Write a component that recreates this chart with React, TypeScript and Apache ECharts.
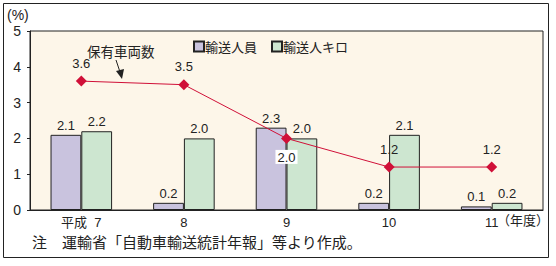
import React, { useEffect, useRef } from "react";
import * as echarts from "echarts";

const categories = ["平成  7", "8", "9", "10", "11"];
const passengers = [2.1, 0.2, 2.3, 0.2, 0.1];
const passengerKm = [2.2, 2.0, 2.0, 2.1, 0.2];
const vehicles = [3.6, 3.5, 2.0, 1.2, 1.2];
const seriesNames = ["輸送人員", "輸送人キロ", "保有車両数"];
const yTicks = [0, 1, 2, 3, 4, 5];

const SANS = "'Liberation Sans', 'Noto Sans CJK JP', sans-serif";
const JP = "'Noto Sans CJK JP', sans-serif";

export default function App() {
  const ref = useRef<HTMLDivElement>(null);
  useEffect(() => {
    if (!ref.current) return;
    const chart = echarts.init(ref.current, null, { renderer: "svg" });
    const labelStyle = { fontFamily: SANS, fontSize: 13, color: "#222" };
    chart.setOption({
      animation: false,
      backgroundColor: "#ffffff",
      grid: {
        left: 30,
        top: 31,
        right: 13,
        bottom: 56,
        show: true,
        backgroundColor: "#FDF6E9",
        borderColor: "#222",
        borderWidth: 1,
      },
      legend: {
        data: [seriesNames[0], seriesNames[1]],
        left: 188,
        top: 35,
        itemWidth: 10,
        itemHeight: 10,
        itemGap: 14,
        icon: "rect",
        textStyle: { fontFamily: JP, fontSize: 13, color: "#222", padding: [0, 0, 0, -4] },
      },
      xAxis: {
        type: "category",
        data: categories,
        axisLine: { show: true, lineStyle: { color: "#222" } },
        axisTick: { show: false },
        axisLabel: { fontFamily: SANS, fontSize: 13, color: "#222", margin: 6 },
      },
      yAxis: {
        type: "value",
        min: yTicks[0],
        max: yTicks[yTicks.length - 1],
        interval: 1,
        splitLine: { show: false },
        axisLine: { show: true, lineStyle: { color: "#222" } },
        axisTick: { show: true, length: 3, lineStyle: { color: "#222" } },
        axisLabel: { fontFamily: SANS, fontSize: 14, color: "#222", margin: 9 },
      },
      series: [
        {
          name: seriesNames[0],
          type: "bar",
          data: passengers,
          barGap: "0%",
          barCategoryGap: "40%",
          itemStyle: { color: "#C9C3DE", borderColor: "#222", borderWidth: 1 },
          label: { show: true, position: "top", distance: 3, formatter: (p: any) => p.value.toFixed(1), ...labelStyle },
        },
        {
          name: seriesNames[1],
          type: "bar",
          data: passengerKm,
          itemStyle: { color: "#CDE6D0", borderColor: "#222", borderWidth: 1 },
          label: { show: true, position: "top", distance: 3, formatter: (p: any) => p.value.toFixed(1), ...labelStyle },
        },
        {
          name: seriesNames[2],
          type: "line",
          data: vehicles.map((v, i) =>
            i === 2
              ? {
                  value: v,
                  label: {
                    position: "bottom",
                    distance: 6,
                    backgroundColor: "#ffffff",
                    padding: [1, 2, 0, 2],
                  },
                }
              : v
          ),
          symbol: "diamond",
          symbolSize: 11,
          lineStyle: { color: "#D01038", width: 1 },
          itemStyle: { color: "#D01038" },
          label: { show: true, position: "top", distance: 6, formatter: (p: any) => Number(p.value).toFixed(1), ...labelStyle },
          z: 5,
        },
      ],
      graphic: [
        {
          type: "rect",
          shape: { x: 3.5, y: 3.5, width: 545, height: 254 },
          style: { fill: "none", stroke: "#222", lineWidth: 1 },
          z: -1,
        },
        {
          type: "text",
          left: 7,
          top: 8,
          style: { text: "(%)", fontFamily: SANS, fontSize: 14, fill: "#222" },
        },
        {
          type: "text",
          x: 87,
          y: 44,
          style: { text: "保有車両数", fontFamily: JP, fontSize: 13.5, fill: "#222" },
        },
        {
          type: "line",
          shape: { x1: 116, y1: 60, x2: 120, y2: 72 },
          style: { stroke: "#222", lineWidth: 1 },
        },
        {
          type: "polygon",
          shape: { points: [[116, 71], [124, 69], [122, 79]] },
          style: { fill: "#222" },
        },
        {
          type: "text",
          x: 497,
          y: 213,
          style: { text: "（年度）", fontFamily: JP, fontSize: 13, fill: "#222" },
        },
        {
          type: "text",
          x: 32,
          y: 234,
          style: { text: "注　運輸省「自動車輸送統計年報」等より作成。", fontFamily: JP, fontSize: 15, fill: "#222" },
        },
      ],
    });
    return () => chart.dispose();
  }, []);
  return (
    <div
      ref={ref}
      style={{ position: "fixed", left: 0, top: 0, width: 556, height: 266 }}
    />
  );
}
